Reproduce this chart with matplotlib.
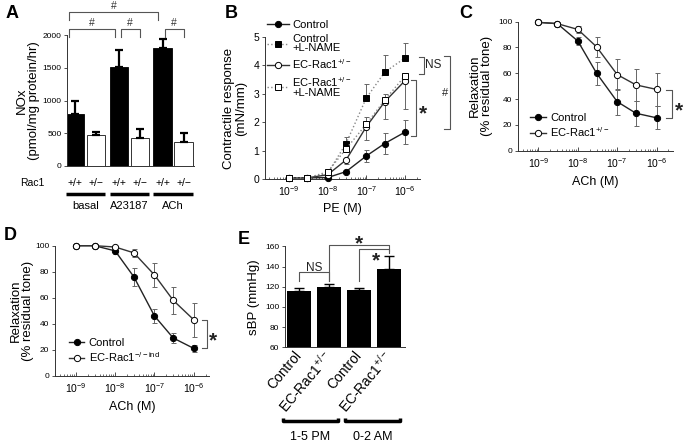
import numpy as np
import matplotlib
matplotlib.use("Agg")
import matplotlib.pyplot as plt
from matplotlib.ticker import FixedLocator, NullFormatter

plt.rcParams['font.family'] = ['Liberation Sans', 'DejaVu Sans']
plt.rcParams['mathtext.fontset'] = 'custom'
plt.rcParams['mathtext.rm'] = 'Liberation Sans'
plt.rcParams['mathtext.it'] = 'Liberation Sans:italic'
plt.rcParams['mathtext.default'] = 'regular'

# ----------------------------------------------------------------------
# DATA
# ----------------------------------------------------------------------
# A : NOx production
a_groups = ['basal', 'A23187', 'ACh']
a_genotypes = ['+/+', '+/\u2212']
a_wt = [795, 1515, 1805]
a_wt_err = [195, 255, 135]
a_het = [475, 425, 360]
a_het_err = [40, 140, 140]

# B/C/D : concentration-response curves
conc = [1e-9, 3e-9, 1e-8, 3e-8, 1e-7, 3e-7, 1e-6]
decades = [1e-9, 1e-8, 1e-7, 1e-6]

b_ctrl = [0.04, 0.04, 0.05, 0.26, 0.81, 1.25, 1.65]
b_ctrl_err = [0, 0, 0.02, 0.05, 0.2, 0.37, 0.42]
b_ctrl_lname = [0.04, 0.04, 0.2, 1.25, 2.85, 3.76, 4.26]
b_ctrl_lname_err = [0, 0, 0.05, 0.24, 0.5, 0.6, 0.52]
b_rac = [0.04, 0.04, 0.15, 0.67, 1.84, 2.72, 3.46]
b_rac_err = [0, 0, 0.04, 0.15, 0.45, 0.6, 1.0]
b_rac_lname = [0.04, 0.04, 0.25, 1.06, 1.93, 2.78, 3.63]
b_rac_lname_err = [0, 0, 0.05, 0.2, 0.26, 0.2, 0.1]

c_ctrl = [99.5, 98.5, 85, 60, 38, 29, 25.5]
c_ctrl_err = [0, 0, 3, 9, 10, 9.5, 9]
c_rac = [99.5, 98.5, 94, 80.5, 59, 51, 47.5]
c_rac_err = [0, 0, 2.5, 7.5, 12, 12.5, 13]

d_ctrl = [100, 100, 96, 76, 46, 29, 21]
d_ctrl_err = [0, 0, 2, 7, 5.5, 4, 2.5]
d_rac = [100, 100, 99, 94.5, 77.5, 58, 43]
d_rac_err = [0, 0, 1, 3, 9, 10.5, 13]

# E : systolic blood pressure
e_labels = ['Control', 'EC-Rac1$^{+/-}$', 'Control', 'EC-Rac1$^{+/-}$']
e_periods = ['1-5 PM', '0-2 AM']
e_sbp = [116, 120, 116.5, 138]
e_sbp_err = [2.7, 2.7, 2.5, 12.5]

# ----------------------------------------------------------------------
# FIGURE / HELPERS
# ----------------------------------------------------------------------
W, H = 686, 442
fig = plt.figure(figsize=(W / 100, H / 100), dpi=100)
AX_COL = '#333333'
BR_COL = '#555555'
STAR = 15


def px_axes(left, top, right, bottom):
    # axes placed in pixel coordinates of the figure
    return fig.add_axes([left / W, 1 - bottom / H, (right - left) / W, (bottom - top) / H])


def style(ax, ysize=6):
    for s in ['top', 'right']:
        ax.spines[s].set_visible(False)
    for s in ['left', 'bottom']:
        ax.spines[s].set_linewidth(0.7)
        ax.spines[s].set_color(AX_COL)
    ax.tick_params(axis='y', direction='out', length=2.5, width=0.6,
                   labelsize=ysize, pad=1.5, color=AX_COL)


def log_axis(ax, lo, hi):
    ax.set_xscale('log')
    ax.set_xlim(10 ** lo, 10 ** hi)
    ax.set_xticks(decades)
    minor = [m * d for d in [1e-10] + decades for m in range(2, 10)
             if 10 ** lo <= m * d <= 10 ** hi]
    ax.xaxis.set_minor_locator(FixedLocator(minor))
    ax.xaxis.set_minor_formatter(NullFormatter())
    ax.tick_params(axis='x', which='major', direction='in', length=3, width=0.6,
                   labelsize=7.5, pad=4, color=AX_COL)
    ax.tick_params(axis='x', which='minor', direction='in', length=1.5, width=0.5,
                   color=AX_COL)


def side_bracket(ax, x, x_end, y0, y1, text, tx, ty, size=STAR):
    tr = ax.get_yaxis_transform()
    ax.plot([x_end, x, x, x_end], [y0, y0, y1, y1], color=BR_COL, lw=0.8,
            transform=tr, clip_on=False)
    ax.text(tx, ty, text, transform=tr, fontsize=size, ha='center', va='center',
            color='#222222', fontweight='bold' if text == '*' else 'normal')


def curve(ax, y, err, marker, face, ls, lcolor, label, up=True, down=True):
    lo = err if down else np.zeros(len(err))
    hi = err if up else np.zeros(len(err))
    ax.errorbar(conc, y, yerr=[lo, hi], fmt='none', ecolor='#666666',
                elinewidth=0.7, capsize=1.8, capthick=0.7, clip_on=False, zorder=2)
    line, = ax.plot(conc, y, ls=ls, color=lcolor, lw=1.0, marker=marker, ms=4.5,
                    mfc=face, mec='black', mew=0.7, label=label, clip_on=False, zorder=3)
    return line


# ----------------------------------------------------------------------
# A
# ----------------------------------------------------------------------
axA = px_axes(67, 35, 194, 166)
style(axA)
pos_a = [0, 1, 2.1, 3.1, 4.2, 5.2]
wt_x = pos_a[0::2]
het_x = pos_a[1::2]
axA.bar(wt_x, a_wt, width=0.88, color='black', edgecolor='black', lw=0.6)
axA.bar(het_x, a_het, width=0.88, color='white', edgecolor=AX_COL, lw=0.7)
axA.errorbar(wt_x, a_wt, yerr=[np.zeros(3), a_wt_err], fmt='none', ecolor='black',
             elinewidth=1.6, capsize=2.8, capthick=1.6)
axA.errorbar(het_x, a_het, yerr=[np.zeros(3), a_het_err], fmt='none', ecolor='black',
             elinewidth=1.6, capsize=2.8, capthick=1.6)
axA.set_xlim(-0.38, 5.7)
axA.set_ylim(0, 2000)
axA.set_yticks([0, 500, 1000, 1500, 2000])
axA.set_xticks([])
axA.set_ylabel('NOx\n(pmol/mg protein/hr)', fontsize=9.5, labelpad=2, linespacing=1.0)

trA = axA.get_xaxis_transform()
for x, g in zip(pos_a, a_genotypes * 3):
    axA.text(x, -0.13, g, transform=trA, ha='center', va='center', fontsize=7.5)
axA.text(-2.05, -0.13, 'Rac1', transform=trA, ha='center', va='center', fontsize=7.5)
for i, g in enumerate(a_groups):
    x0, x1 = pos_a[2 * i] - 0.44, pos_a[2 * i + 1] + 0.44
    axA.plot([x0, x1], [-0.21, -0.21], transform=trA, color='black', lw=2.5,
             solid_capstyle='butt', clip_on=False)
    axA.text((x0 + x1) / 2, -0.305, g, transform=trA, ha='center', va='center',
             fontsize=8)

# significance brackets over the bars
a_brackets = [(pos_a[0] - 0.3, pos_a[4] - 0.2, 2229, 2351),
              (pos_a[0] - 0.3, pos_a[2] - 0.2, 1969, 2092),
              (pos_a[2] + 0.1, pos_a[3], 1969, 2092),
              (pos_a[4] + 0.1, pos_a[5], 1969, 2092)]
for x0, x1, y0, y1 in a_brackets:
    axA.plot([x0, x0, x1, x1], [y0, y1, y1, y0], color=BR_COL, lw=0.8, clip_on=False)
    axA.text((x0 + x1) / 2, y1 + 15, '#', ha='center', va='bottom', fontsize=7.5,
             color='#333333')

# ----------------------------------------------------------------------
# B
# ----------------------------------------------------------------------
axB = px_axes(265, 37, 420, 179)
style(axB, 7.5)
log_axis(axB, -9.62, -5.61)
hB = [
    curve(axB, b_ctrl, b_ctrl_err, 'o', 'black', '-', '#222222', 'Control'),
    curve(axB, b_ctrl_lname, b_ctrl_lname_err, 's', 'black', ':', '#888888',
          'Control\n+L-NAME', down=False),
    curve(axB, b_rac, b_rac_err, 'o', 'white', '-', '#333333', 'EC-Rac1$^{+/-}$', up=False),
    curve(axB, b_rac_lname, b_rac_lname_err, 's', 'white', ':', '#888888',
          'EC-Rac1$^{+/-}$\n+L-NAME', down=False),
]
axB.set_ylim(0, 5)
axB.set_yticks([0, 1, 2, 3, 4, 5])
axB.set_xlabel('PE (M)', fontsize=9, labelpad=3)
axB.set_ylabel('Contractile response\n(mN/mm)', fontsize=9.5, labelpad=5, linespacing=1.0)
legB = axB.legend(handles=hB, loc='upper left', bbox_to_anchor=(0.01, 1.12),
                  frameon=False, fontsize=8, handlelength=2.0, handletextpad=0.3,
                  labelspacing=0.35, borderpad=0, borderaxespad=0)
for t in legB.get_texts():
    t.set_linespacing(0.95)
side_bracket(axB, 1.028, 0.994, 3.7, 4.31, 'NS', 1.086, 4.01, size=8.5)
side_bracket(axB, 0.974, 0.94, 1.51, 3.49, '*', 1.02, 2.3)
side_bracket(axB, 1.194, 1.155, 1.75, 4.33, '#', 1.163, 3.02, size=8)

# ----------------------------------------------------------------------
# C
# ----------------------------------------------------------------------
axC = px_axes(518, 21.7, 672.7, 150.7)
style(axC)
log_axis(axC, -9.52, -5.59)
hC = [curve(axC, c_ctrl, c_ctrl_err, 'o', 'black', '-', '#222222', 'Control'),
      curve(axC, c_rac, c_rac_err, 'o', 'white', '-', '#333333', 'EC-Rac1$^{+/-}$')]
axC.set_ylim(0, 100)
axC.set_yticks([0, 20, 40, 60, 80, 100])
axC.set_xlabel('ACh (M)', fontsize=9, labelpad=4)
axC.set_ylabel('Relaxation\n(% residual tone)', fontsize=9.5, labelpad=4, linespacing=1.0)
axC.legend(handles=hC, loc='lower left', bbox_to_anchor=(0.08, 0.09), frameon=False,
           fontsize=8, handlelength=1.4, handletextpad=0.4, labelspacing=0.2,
           borderpad=0, borderaxespad=0)
side_bracket(axC, 0.994, 0.955, 25.7, 47, '*', 1.04, 30.5)

# ----------------------------------------------------------------------
# D
# ----------------------------------------------------------------------
axD = px_axes(55, 245.7, 208.7, 375.7)
style(axD)
log_axis(axD, -9.53, -5.62)
hD = [curve(axD, d_ctrl, d_ctrl_err, 'o', 'black', '-', '#222222', 'Control'),
      curve(axD, d_rac, d_rac_err, 'o', 'white', '-', '#333333', 'EC-Rac1$^{-/-ind}$')]
axD.set_ylim(0, 100)
axD.set_yticks([0, 20, 40, 60, 80, 100])
axD.set_xlabel('ACh (M)', fontsize=9, labelpad=4)
axD.set_ylabel('Relaxation\n(% residual tone)', fontsize=9.5, labelpad=1, linespacing=1.0)
axD.legend(handles=hD, loc='lower left', bbox_to_anchor=(0.09, 0.09), frameon=False,
           fontsize=8, handlelength=1.4, handletextpad=0.4, labelspacing=0.2,
           borderpad=0, borderaxespad=0)
side_bracket(axD, 0.987, 0.955, 21, 42.7, '*', 1.03, 26.5)

# ----------------------------------------------------------------------
# E
# ----------------------------------------------------------------------
axE = px_axes(285, 246.3, 405, 347.3)
style(axE)
pos_e = np.arange(len(e_sbp))
axE.bar(pos_e, e_sbp, width=0.82, color='black')
axE.errorbar(pos_e, e_sbp, yerr=[np.zeros(len(e_sbp)), e_sbp_err], fmt='none',
             ecolor='black', elinewidth=1.0, capsize=3.5, capthick=1.0)
axE.set_xlim(-0.47, 3.53)
axE.set_ylim(60, 160)
axE.set_yticks([60, 80, 100, 120, 140, 160])
axE.set_xticks(pos_e)
axE.set_xticklabels(e_labels, rotation=50, ha='right', va='center',
                    rotation_mode='anchor', fontsize=10)
axE.tick_params(axis='x', length=0, pad=4)
axE.set_ylabel('sBP (mmHg)', fontsize=9.5, labelpad=4)

trE = axE.get_xaxis_transform()
for (x0, x1), p in zip([(-0.55, 1.3), (1.53, 3.36)], e_periods):
    axE.plot([x0, x0, x1, x1], [-0.70, -0.727, -0.727, -0.70], transform=trE,
             color='black', lw=2.5, solid_capstyle='butt', clip_on=False)
    axE.text((x0 + x1) / 2, -0.885, p, transform=trE, ha='center', va='center',
             fontsize=9)

# (left x, right x, left leg bottom, top, right leg bottom, label, label x, label y, size)
e_brackets = [(pos_e[0], pos_e[1], 125.5, 134.5, 125.5, 'NS', 0.5, 139, 8.5),
              (pos_e[1], pos_e[3], 125.5, 161.3, 155.7, '*', 2.0, 162.5, STAR),
              (pos_e[2], pos_e[3], 125.5, 157.0, 153.5, '*', 2.55, 145.5, STAR)]
for x0, x1, yl, ytop, yr, txt, tx, ty, fs in e_brackets:
    axE.plot([x0, x0, x1, x1], [yl, ytop, ytop, yr], color=BR_COL, lw=0.8, clip_on=False)
    axE.text(tx, ty, txt, ha='center', va='center', fontsize=fs, color='#222222',
             fontweight='bold' if txt == '*' else 'normal')

# ----------------------------------------------------------------------
# PANEL LETTERS
# ----------------------------------------------------------------------
for letter, x, y in [('A', 12, 13), ('B', 231, 13), ('C', 466, 13),
                     ('D', 10, 236), ('E', 244, 240)]:
    fig.text(x / W, 1 - y / H, letter, fontsize=13, fontweight='bold',
             ha='center', va='center')

plt.savefig('out.png', dpi=100)
